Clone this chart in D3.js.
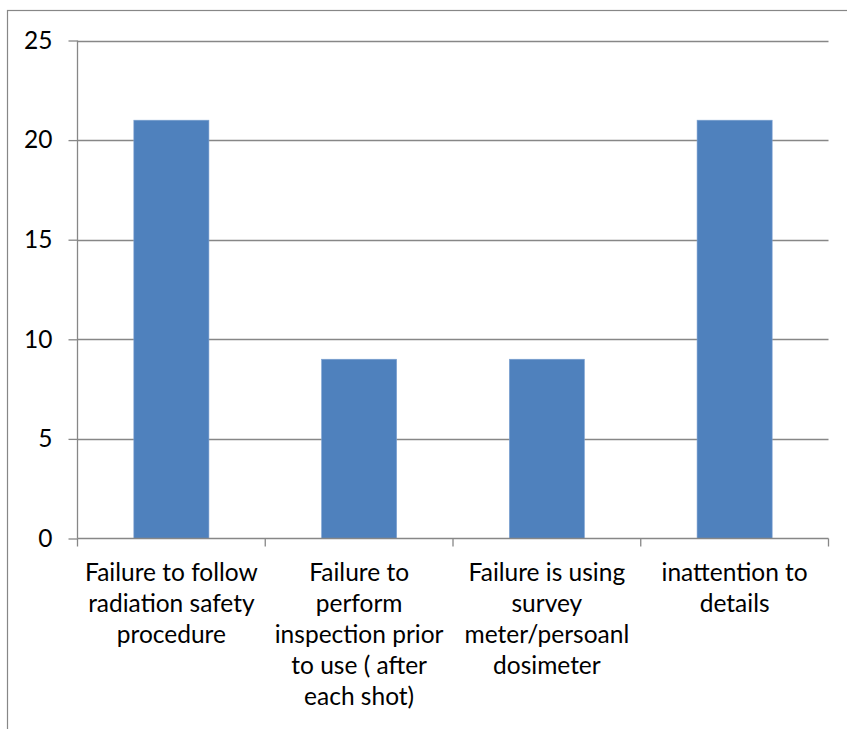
<!DOCTYPE html>
<html>
<head>
<meta charset="utf-8">
<script src="https://cdn.jsdelivr.net/npm/d3@7"></script>
<style>
  html, body { margin: 0; padding: 0; background: #fff; }
  svg { display: block; }
  text { font-family: Lato, "Open Sans", sans-serif; fill: #000; }
</style>
</head>
<body>
<svg id="chart" width="847" height="729"></svg>
<script>
// Categories (each split into the lines shown under the axis)
const categories = [
  "Failure to follow radiation safety procedure",
  "Failure to perform inspection prior to use ( after each shot)",
  "Failure is using survey meter/persoanl dosimeter",
  "inattention to details"
];
const categoryLines = [
  ["Failure to follow", "radiation safety", "procedure"],
  ["Failure to", "perform", "inspection prior", "to use ( after", "each shot)"],
  ["Failure is using", "survey", "meter/persoanl", "dosimeter"],
  ["inattention to", "details"]
];
const values = [21, 9, 9, 21];
const yTicks = [0, 5, 10, 15, 20, 25];

const svg = d3.select("#chart");
const plot = { left: 77.5, right: 828.5, top: 40.5, bottom: 538.5 };
const gridColor = "#878787";
const barColor = "#4F81BD";
const fontSize = 24.5;

// Outer chart frame (extends past the right and bottom edges)
svg.append("rect")
  .attr("x", 7.5).attr("y", 10.5)
  .attr("width", 1000).attr("height", 1000)
  .attr("fill", "none").attr("stroke", gridColor).attr("stroke-width", 1.2);

const x = d3.scaleBand()
  .domain(categories)
  .range([plot.left, plot.right])
  .paddingInner(0.6).paddingOuter(0.3);

const y = d3.scaleLinear()
  .domain([0, 25])
  .range([plot.bottom, plot.top]);

// Horizontal gridlines
svg.append("g")
  .selectAll("line")
  .data(yTicks.filter(d => d > 0))
  .join("line")
  .attr("x1", plot.left).attr("x2", plot.right)
  .attr("y1", d => Math.round(y(d)) + 0.5).attr("y2", d => Math.round(y(d)) + 0.5)
  .attr("stroke", gridColor).attr("stroke-width", 1.3);

// Bars
svg.append("g")
  .selectAll("rect")
  .data(values)
  .join("rect")
  .attr("x", (d, i) => x(categories[i]))
  .attr("width", x.bandwidth())
  .attr("y", d => y(d))
  .attr("height", d => y(0) - y(d))
  .attr("fill", barColor)
  .attr("stroke", "#7FA3D2").attr("stroke-width", 0.6);

// Y axis
const yAxis = d3.axisLeft(y)
  .tickValues(yTicks)
  .tickSize(9)
  .tickPadding(16)
  .tickFormat(d3.format("d"));
const gy = svg.append("g")
  .attr("transform", `translate(${plot.left},0)`)
  .call(yAxis);
gy.select(".domain").attr("stroke", gridColor).attr("stroke-width", 1.3)
  .attr("d", `M0,${plot.top}V${plot.bottom}`);
gy.selectAll(".tick line").attr("stroke", gridColor).attr("stroke-width", 1.3);
gy.selectAll(".tick text")
  .attr("font-size", fontSize)
  .attr("font-family", "Lato, sans-serif")
  .attr("fill", "#000");

// X axis baseline with category separator ticks
const catEdges = d3.range(categories.length + 1)
  .map(i => plot.left + i * (plot.right - plot.left) / categories.length);
svg.append("line")
  .attr("x1", plot.left).attr("x2", plot.right)
  .attr("y1", plot.bottom).attr("y2", plot.bottom)
  .attr("stroke", gridColor).attr("stroke-width", 1.3);
svg.append("g")
  .selectAll("line")
  .data(catEdges)
  .join("line")
  .attr("x1", d => d).attr("x2", d => d)
  .attr("y1", plot.bottom).attr("y2", plot.bottom + 8)
  .attr("stroke", gridColor).attr("stroke-width", 1.3);

// Category labels
const lineHeight = 31;
const labels = svg.append("g")
  .selectAll("text")
  .data(categories)
  .join("text")
  .attr("text-anchor", "middle")
  .attr("font-size", fontSize)
  .attr("transform", d => `translate(${x(d) + x.bandwidth() / 2},581)`);
labels.selectAll("tspan")
  .data((d, i) => categoryLines[i])
  .join("tspan")
  .attr("x", 0)
  .attr("y", (d, j) => j * lineHeight)
  .text(d => d);
</script>
</body>
</html>
